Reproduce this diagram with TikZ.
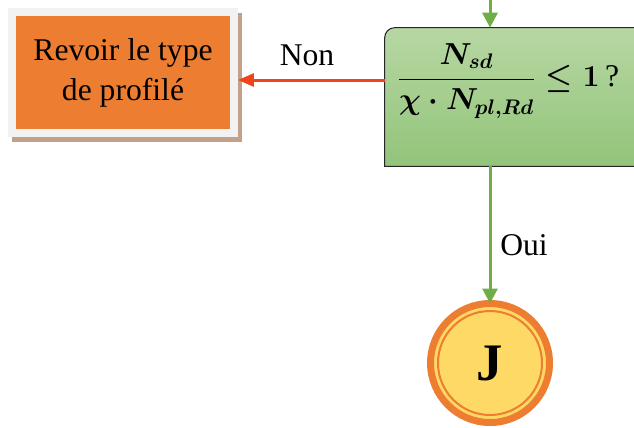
\documentclass[tikz,border=0pt]{standalone}
\usepackage{fontspec}
\usepackage{amsmath}
\setmainfont{Liberation Serif}
\usetikzlibrary{positioning}
\usetikzlibrary{calc}
\usetikzlibrary{arrows.meta,shapes,shadows}

\definecolor{orangeC}{HTML}{ED7D31}
\definecolor{yellowC}{HTML}{FFD966}
\definecolor{frameC}{HTML}{F2F2F2}
\definecolor{shadowC}{HTML}{C4A08A}
\definecolor{greenC}{HTML}{70AD47}
\definecolor{greenT}{HTML}{B7D7A3}
\definecolor{greenB}{HTML}{92C47A}
\definecolor{redC}{HTML}{F2441C}

\begin{document}
\begin{tikzpicture}[x=0.02cm,y=0.02cm,
  every node/.style={font=\fontsize{18}{22.7}\selectfont},
  greenarrow/.style={draw=greenC,line width=0.06cm,-{Triangle[width=0.3cm,length=0.3cm]}},
  redarrow/.style={draw=redC,line width=0.06cm,-{Triangle[width=0.26cm,length=0.32cm]}}]
\useasboundingbox (0,0) rectangle (634,-427);

\node[inner sep=0pt,minimum width=5.5cm,minimum height=2.76cm](test) at (522.5,-97){};
\shade[top color=greenT,bottom color=greenB,draw=black!85,line width=0.6pt]
  (test.south west) -- ([yshift=-0.2cm]test.north west)
  arc[start angle=180,end angle=90,radius=0.2cm]
  -- (test.north east) -- (test.south east) -- cycle;
\node[font=\fontsize{18}{22.7}\selectfont\mathversion{bold}](ratio) at (508,-81){$\displaystyle\frac{N_{sd}}{\chi\cdot N_{pl,Rd}}\leq\mathbf{1}$\,?};

\node[fill=orangeC,draw=frameC,line width=0.15cm,minimum width=4.45cm,minimum height=2.43cm,align=center,
  drop shadow={fill=shadowC,draw=shadowC,line width=0.15cm,shadow xshift=0.08cm,shadow yshift=-0.1cm,opacity=1}]
  (revoir) at (123,-72.5){Revoir le type\\de profilé};

\node[](non) at (307,-55){Non};
\node[](oui) at (524,-245){Oui};

\node[circle,fill=yellowC,draw=orangeC,line width=0.14cm,minimum size=2.38cm,
  font=\fontsize{30}{30}\selectfont\bfseries](J) at (490,-363){J};
\draw[orangeC,line width=0.04cm] (J.center) circle (1.04cm);

\coordinate (topin) at (490,0);
\coordinate (redout) at (385,-80);

\path
(topin) edge[greenarrow] (J |- test.north)
(redout) edge[redarrow] (revoir.east |- redout)
(J |- test.south) edge[greenarrow, shorten >=-0.07cm] (J);
\end{tikzpicture}
\end{document}
